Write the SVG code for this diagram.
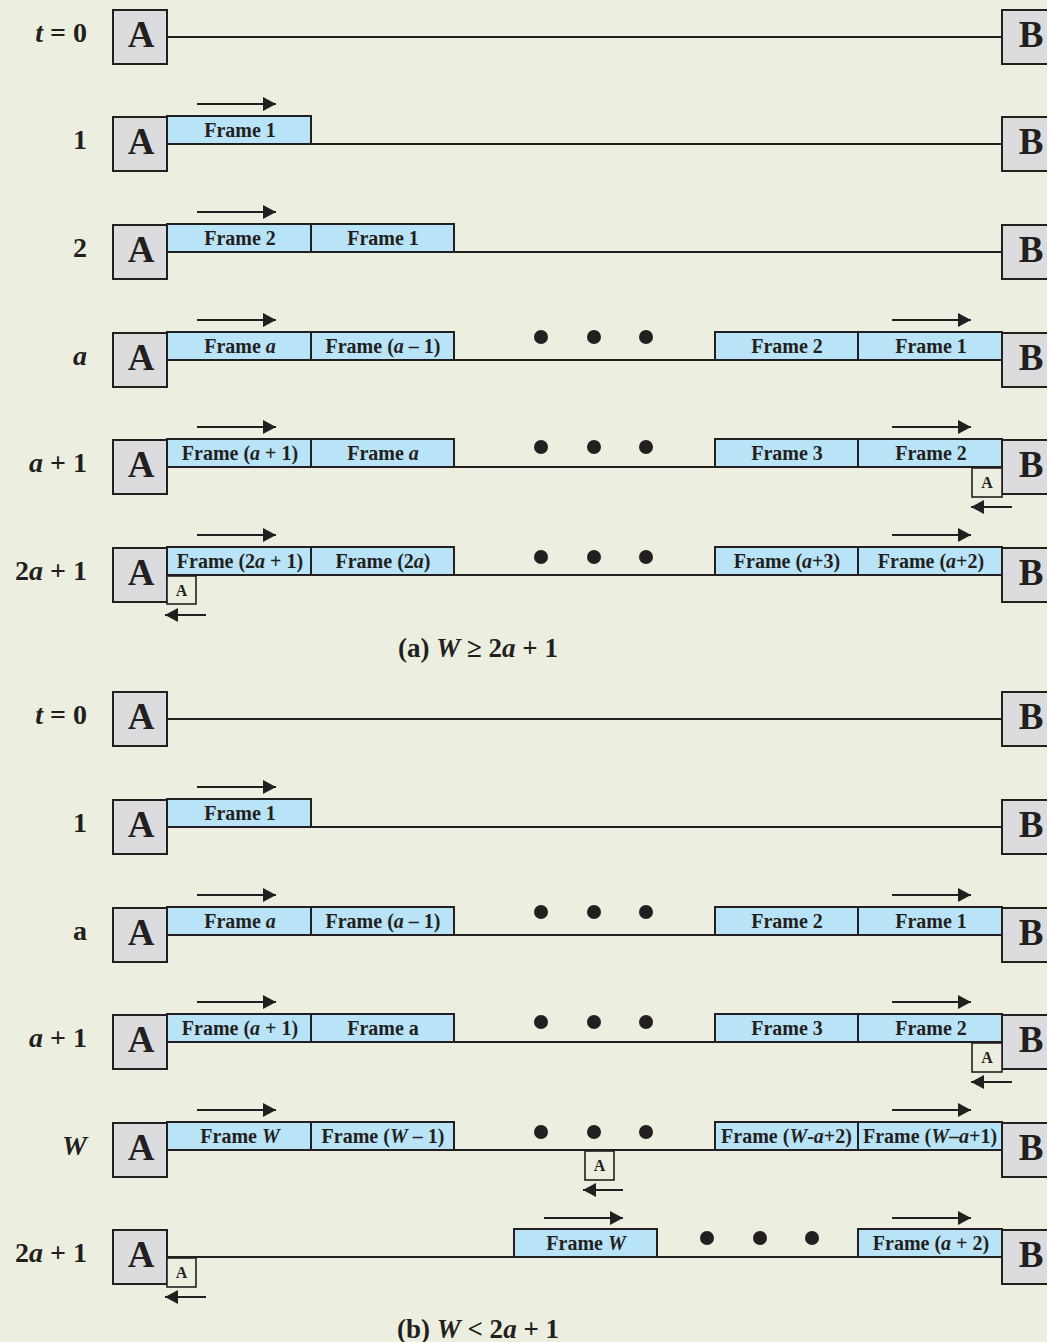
<svg xmlns="http://www.w3.org/2000/svg" width="1047" height="1342" viewBox="0 0 1047 1342">
<style>
.bg{fill:#ECEFDF}
.st{fill:#DCDCDE;stroke:#231F20;stroke-width:2}
.fr{fill:#B9E3F7;stroke:#231F20;stroke-width:2}
.ack{fill:#ECEFDF;stroke:#231F20;stroke-width:1.6}
.ln{stroke:#231F20;stroke-width:2;fill:none}
.ar{stroke:#231F20;stroke-width:2;fill:none;marker-end:url(#ah)}
.big{font-family:"Liberation Serif",serif;font-weight:bold;font-size:37px;fill:#231F20;text-anchor:middle}
.ft{font-family:"Liberation Serif",serif;font-weight:bold;font-size:20px;fill:#231F20;text-anchor:middle}
.sm{font-family:"Liberation Serif",serif;font-weight:bold;font-size:16px;fill:#231F20;text-anchor:middle}
.lb{font-family:"Liberation Serif",serif;font-weight:bold;font-size:28px;fill:#231F20;text-anchor:end}
.cap{font-family:"Liberation Serif",serif;font-weight:bold;font-size:27px;fill:#231F20;text-anchor:middle}
.i{font-style:italic}
.dot{fill:#231F20}
</style>
<defs>
<marker id="ah" markerUnits="userSpaceOnUse" markerWidth="14" markerHeight="14" refX="13" refY="7" orient="auto">
<path d="M0,0 L13,7 L0,14 z" fill="#231F20"/>
</marker>
</defs>
<rect class="bg" x="0" y="0" width="1047" height="1342"/>

<g id="connectors">
<line class="ln" x1="167" y1="37" x2="1002" y2="37"/>
<line class="ln" x1="311" y1="144" x2="1002" y2="144"/>
<line class="ln" x1="454" y1="252" x2="1002" y2="252"/>
<line class="ln" x1="454" y1="360" x2="715" y2="360"/>
<line class="ln" x1="454" y1="467" x2="715" y2="467"/>
<line class="ln" x1="454" y1="575" x2="715" y2="575"/>
<line class="ln" x1="167" y1="719" x2="1002" y2="719"/>
<line class="ln" x1="311" y1="827" x2="1002" y2="827"/>
<line class="ln" x1="454" y1="935" x2="715" y2="935"/>
<line class="ln" x1="454" y1="1042" x2="715" y2="1042"/>
<line class="ln" x1="454" y1="1150" x2="715" y2="1150"/>
<line class="ln" x1="167" y1="1257" x2="514" y2="1257"/>
<line class="ln" x1="657" y1="1257" x2="858" y2="1257"/>
<line class="ar" x1="197" y1="104" x2="276" y2="104"/>
<line class="ar" x1="197" y1="212" x2="276" y2="212"/>
<line class="ar" x1="197" y1="320" x2="276" y2="320"/>
<line class="ar" x1="892" y1="320" x2="971" y2="320"/>
<line class="ar" x1="197" y1="427" x2="276" y2="427"/>
<line class="ar" x1="892" y1="427" x2="971" y2="427"/>
<line class="ar" x1="1012" y1="507" x2="971" y2="507"/>
<line class="ar" x1="197" y1="535" x2="276" y2="535"/>
<line class="ar" x1="892" y1="535" x2="971" y2="535"/>
<line class="ar" x1="206" y1="615" x2="165" y2="615"/>
<line class="ar" x1="197" y1="787" x2="276" y2="787"/>
<line class="ar" x1="197" y1="895" x2="276" y2="895"/>
<line class="ar" x1="892" y1="895" x2="971" y2="895"/>
<line class="ar" x1="197" y1="1002" x2="276" y2="1002"/>
<line class="ar" x1="892" y1="1002" x2="971" y2="1002"/>
<line class="ar" x1="1012" y1="1082" x2="971" y2="1082"/>
<line class="ar" x1="197" y1="1110" x2="276" y2="1110"/>
<line class="ar" x1="892" y1="1110" x2="971" y2="1110"/>
<line class="ar" x1="623" y1="1190" x2="583" y2="1190"/>
<line class="ar" x1="544" y1="1218" x2="623" y2="1218"/>
<line class="ar" x1="892" y1="1218" x2="971" y2="1218"/>
<line class="ar" x1="206" y1="1297" x2="165" y2="1297"/>
</g>

<g id="row-a0">
<text class="lb" x="87" y="42"><tspan class="i">t</tspan> = 0</text>
<g id="a0-A"><rect class="st" x="113" y="10" width="54" height="54"/><text class="big" x="141" y="47">A</text></g>
<g id="a0-B"><rect class="st" x="1002" y="10" width="60" height="54"/><text class="big" x="1031" y="47">B</text></g>
</g>

<g id="row-a1">
<text class="lb" x="87" y="149">1</text>
<g id="a1-A"><rect class="st" x="113" y="117" width="54" height="54"/><text class="big" x="141" y="154">A</text></g>
<g id="a1-B"><rect class="st" x="1002" y="117" width="60" height="54"/><text class="big" x="1031" y="154">B</text></g>
<g id="a1-f1"><rect class="fr" x="167" y="116" width="144" height="28"/><text class="ft" x="240" y="137">Frame 1</text></g>
</g>

<g id="row-a2">
<text class="lb" x="87" y="257">2</text>
<g id="a2-A"><rect class="st" x="113" y="225" width="54" height="54"/><text class="big" x="141" y="262">A</text></g>
<g id="a2-B"><rect class="st" x="1002" y="225" width="60" height="54"/><text class="big" x="1031" y="262">B</text></g>
<g id="a2-f2"><rect class="fr" x="167" y="224" width="144" height="28"/><text class="ft" x="240" y="245">Frame 2</text></g>
<g id="a2-f1"><rect class="fr" x="311" y="224" width="143" height="28"/><text class="ft" x="383" y="245">Frame 1</text></g>
</g>

<g id="row-a3">
<text class="lb" x="87" y="365"><tspan class="i">a</tspan></text>
<g id="a3-A"><rect class="st" x="113" y="333" width="54" height="54"/><text class="big" x="141" y="370">A</text></g>
<g id="a3-B"><rect class="st" x="1002" y="333" width="60" height="54"/><text class="big" x="1031" y="370">B</text></g>
<g id="a3-fa"><rect class="fr" x="167" y="332" width="144" height="28"/><text class="ft" x="240" y="353">Frame <tspan class="i">a</tspan></text></g>
<g id="a3-fa1"><rect class="fr" x="311" y="332" width="143" height="28"/><text class="ft" x="383" y="353">Frame (<tspan class="i">a</tspan> – 1)</text></g>
<g id="a3-f2"><rect class="fr" x="715" y="332" width="143" height="28"/><text class="ft" x="787" y="353">Frame 2</text></g>
<g id="a3-f1"><rect class="fr" x="858" y="332" width="144" height="28"/><text class="ft" x="931" y="353">Frame 1</text></g>
<circle class="dot" cx="541" cy="337" r="7"/><circle class="dot" cx="594" cy="337" r="7"/><circle class="dot" cx="646" cy="337" r="7"/>
</g>

<g id="row-a4">
<text class="lb" x="87" y="472"><tspan class="i">a</tspan> + 1</text>
<g id="a4-A"><rect class="st" x="113" y="440" width="54" height="54"/><text class="big" x="141" y="477">A</text></g>
<g id="a4-B"><rect class="st" x="1002" y="440" width="60" height="54"/><text class="big" x="1031" y="477">B</text></g>
<g id="a4-fa1"><rect class="fr" x="167" y="439" width="144" height="28"/><text class="ft" x="240" y="460">Frame (<tspan class="i">a</tspan> + 1)</text></g>
<g id="a4-fa"><rect class="fr" x="311" y="439" width="143" height="28"/><text class="ft" x="383" y="460">Frame <tspan class="i">a</tspan></text></g>
<g id="a4-f3"><rect class="fr" x="715" y="439" width="143" height="28"/><text class="ft" x="787" y="460">Frame 3</text></g>
<g id="a4-f2"><rect class="fr" x="858" y="439" width="144" height="28"/><text class="ft" x="931" y="460">Frame 2</text></g>
<g id="a4-ack"><rect class="ack" x="972" y="468" width="30" height="29"/><text class="sm" x="987" y="488">A</text></g>
<circle class="dot" cx="541" cy="447" r="7"/><circle class="dot" cx="594" cy="447" r="7"/><circle class="dot" cx="646" cy="447" r="7"/>
</g>

<g id="row-a5">
<text class="lb" x="87" y="580">2<tspan class="i">a</tspan> + 1</text>
<g id="a5-A"><rect class="st" x="113" y="548" width="54" height="54"/><text class="big" x="141" y="585">A</text></g>
<g id="a5-B"><rect class="st" x="1002" y="548" width="60" height="54"/><text class="big" x="1031" y="585">B</text></g>
<g id="a5-f2a1"><rect class="fr" x="167" y="547" width="144" height="28"/><text class="ft" x="240" y="568">Frame (2<tspan class="i">a</tspan> + 1)</text></g>
<g id="a5-f2a"><rect class="fr" x="311" y="547" width="143" height="28"/><text class="ft" x="383" y="568">Frame (2<tspan class="i">a</tspan>)</text></g>
<g id="a5-fa3"><rect class="fr" x="715" y="547" width="143" height="28"/><text class="ft" x="787" y="568">Frame (<tspan class="i">a</tspan>+3)</text></g>
<g id="a5-fa2"><rect class="fr" x="858" y="547" width="144" height="28"/><text class="ft" x="931" y="568">Frame (<tspan class="i">a</tspan>+2)</text></g>
<g id="a5-ack"><rect class="ack" x="167" y="576" width="29" height="28"/><text class="sm" x="181.5" y="596">A</text></g>
<circle class="dot" cx="541" cy="557" r="7"/><circle class="dot" cx="594" cy="557" r="7"/><circle class="dot" cx="646" cy="557" r="7"/>
</g>

<text class="cap" x="478" y="657">(a) <tspan class="i">W</tspan> ≥ 2<tspan class="i">a</tspan> + 1</text>

<g id="row-b0">
<text class="lb" x="87" y="724"><tspan class="i">t</tspan> = 0</text>
<g id="b0-A"><rect class="st" x="113" y="692" width="54" height="54"/><text class="big" x="141" y="729">A</text></g>
<g id="b0-B"><rect class="st" x="1002" y="692" width="60" height="54"/><text class="big" x="1031" y="729">B</text></g>
</g>

<g id="row-b1">
<text class="lb" x="87" y="832">1</text>
<g id="b1-A"><rect class="st" x="113" y="800" width="54" height="54"/><text class="big" x="141" y="837">A</text></g>
<g id="b1-B"><rect class="st" x="1002" y="800" width="60" height="54"/><text class="big" x="1031" y="837">B</text></g>
<g id="b1-f1"><rect class="fr" x="167" y="799" width="144" height="28"/><text class="ft" x="240" y="820">Frame 1</text></g>
</g>

<g id="row-b2">
<text class="lb" x="87" y="940">a</text>
<g id="b2-A"><rect class="st" x="113" y="908" width="54" height="54"/><text class="big" x="141" y="945">A</text></g>
<g id="b2-B"><rect class="st" x="1002" y="908" width="60" height="54"/><text class="big" x="1031" y="945">B</text></g>
<g id="b2-fa"><rect class="fr" x="167" y="907" width="144" height="28"/><text class="ft" x="240" y="928">Frame <tspan class="i">a</tspan></text></g>
<g id="b2-fa1"><rect class="fr" x="311" y="907" width="143" height="28"/><text class="ft" x="383" y="928">Frame (<tspan class="i">a</tspan> – 1)</text></g>
<g id="b2-f2"><rect class="fr" x="715" y="907" width="143" height="28"/><text class="ft" x="787" y="928">Frame 2</text></g>
<g id="b2-f1"><rect class="fr" x="858" y="907" width="144" height="28"/><text class="ft" x="931" y="928">Frame 1</text></g>
<circle class="dot" cx="541" cy="912" r="7"/><circle class="dot" cx="594" cy="912" r="7"/><circle class="dot" cx="646" cy="912" r="7"/>
</g>

<g id="row-b3">
<text class="lb" x="87" y="1047"><tspan class="i">a</tspan> + 1</text>
<g id="b3-A"><rect class="st" x="113" y="1015" width="54" height="54"/><text class="big" x="141" y="1052">A</text></g>
<g id="b3-B"><rect class="st" x="1002" y="1015" width="60" height="54"/><text class="big" x="1031" y="1052">B</text></g>
<g id="b3-fa1"><rect class="fr" x="167" y="1014" width="144" height="28"/><text class="ft" x="240" y="1035">Frame (<tspan class="i">a</tspan> + 1)</text></g>
<g id="b3-fa"><rect class="fr" x="311" y="1014" width="143" height="28"/><text class="ft" x="383" y="1035">Frame a</text></g>
<g id="b3-f3"><rect class="fr" x="715" y="1014" width="143" height="28"/><text class="ft" x="787" y="1035">Frame 3</text></g>
<g id="b3-f2"><rect class="fr" x="858" y="1014" width="144" height="28"/><text class="ft" x="931" y="1035">Frame 2</text></g>
<g id="b3-ack"><rect class="ack" x="972" y="1043" width="30" height="29"/><text class="sm" x="987" y="1063">A</text></g>
<circle class="dot" cx="541" cy="1022" r="7"/><circle class="dot" cx="594" cy="1022" r="7"/><circle class="dot" cx="646" cy="1022" r="7"/>
</g>

<g id="row-b4">
<text class="lb" x="87" y="1155"><tspan class="i">W</tspan></text>
<g id="b4-A"><rect class="st" x="113" y="1123" width="54" height="54"/><text class="big" x="141" y="1160">A</text></g>
<g id="b4-B"><rect class="st" x="1002" y="1123" width="60" height="54"/><text class="big" x="1031" y="1160">B</text></g>
<g id="b4-fW"><rect class="fr" x="167" y="1122" width="144" height="28"/><text class="ft" x="240" y="1143">Frame <tspan class="i">W</tspan></text></g>
<g id="b4-fW1"><rect class="fr" x="311" y="1122" width="143" height="28"/><text class="ft" x="383" y="1143">Frame (<tspan class="i">W</tspan> – 1)</text></g>
<g id="b4-fWa2"><rect class="fr" x="715" y="1122" width="143" height="28"/><text class="ft" x="786.5" y="1143">Frame (<tspan class="i">W</tspan>-<tspan class="i">a</tspan>+2)</text></g>
<g id="b4-fWa1"><rect class="fr" x="858" y="1122" width="144" height="28"/><text class="ft" x="930" y="1143">Frame (<tspan class="i">W</tspan>–<tspan class="i">a</tspan>+1)</text></g>
<g id="b4-ack"><rect class="ack" x="585" y="1151" width="29" height="29"/><text class="sm" x="599.5" y="1171">A</text></g>
<circle class="dot" cx="541" cy="1132" r="7"/><circle class="dot" cx="594" cy="1132" r="7"/><circle class="dot" cx="646" cy="1132" r="7"/>
</g>

<g id="row-b5">
<text class="lb" x="87" y="1262">2<tspan class="i">a</tspan> + 1</text>
<g id="b5-A"><rect class="st" x="113" y="1230" width="54" height="54"/><text class="big" x="141" y="1267">A</text></g>
<g id="b5-B"><rect class="st" x="1002" y="1230" width="60" height="54"/><text class="big" x="1031" y="1267">B</text></g>
<g id="b5-fW"><rect class="fr" x="514" y="1229" width="143" height="28"/><text class="ft" x="586" y="1250">Frame <tspan class="i">W</tspan></text></g>
<g id="b5-fa2"><rect class="fr" x="858" y="1229" width="144" height="28"/><text class="ft" x="931" y="1250">Frame (<tspan class="i">a</tspan> + 2)</text></g>
<g id="b5-ack"><rect class="ack" x="167" y="1258" width="29" height="29"/><text class="sm" x="181.5" y="1278">A</text></g>
<circle class="dot" cx="707" cy="1238" r="7"/><circle class="dot" cx="760" cy="1238" r="7"/><circle class="dot" cx="812" cy="1238" r="7"/>
</g>

<text class="cap" x="478" y="1338">(b) <tspan class="i">W</tspan> &lt; 2<tspan class="i">a</tspan> + 1</text>
</svg>
